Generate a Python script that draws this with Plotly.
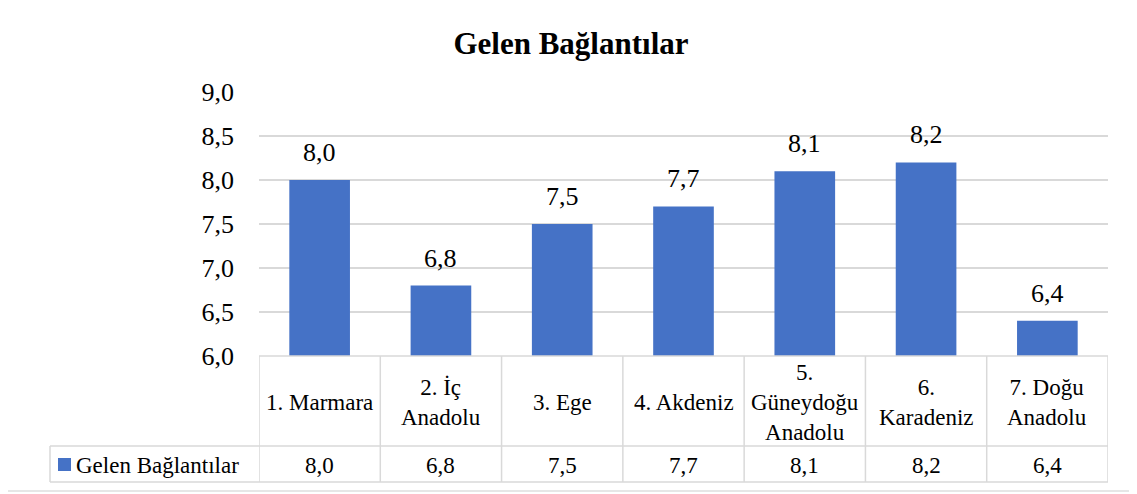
import plotly.graph_objects as go

categories = ["1. Marmara", "2. İç<br>Anadolu", "3. Ege", "4. Akdeniz",
              "5.<br>Güneydoğu<br>Anadolu", "6.<br>Karadeniz", "7. Doğu<br>Anadolu"]
values = [8.0, 6.8, 7.5, 7.7, 8.1, 8.2, 6.4]
series_name = "Gelen Bağlantılar"
y_ticks = [6.0, 6.5, 7.0, 7.5, 8.0, 8.5, 9.0]

OFF = 8  # page body margin
W, H = 1137 - OFF, 494 - OFF
L, R, T, B = 259 - OFF, 1108 - OFF, 92 - OFF, 356 - OFF
FONT = "Liberation Serif"
GRID = "#d9d9d9"
BAR = "#4572c6"
TBL = 23

def py(pix):
    return (B - (pix - OFF)) / (B - T)

def px(pix):
    return ((pix - OFF) - L) / (R - L)

def fmt(v):
    return f"{v:.1f}".replace(".", ",")

xs = list(range(len(categories)))

fig = go.Figure()
fig.add_trace(go.Bar(
    x=xs, y=values, name=series_name,
    marker=dict(color=BAR, line=dict(width=0)),
    showlegend=False, hoverinfo="y",
))

shapes = []
shapes.append(dict(type="line", xref="paper", yref="paper",
                   x0=px(1134), x1=px(1134), y0=py(491), y1=py(8),
                   line=dict(color="#e6e6e6", width=2)))
shapes.append(dict(type="line", xref="paper", yref="paper",
                   x0=px(8), x1=px(1134), y0=py(491), y1=py(491),
                   line=dict(color="#e6e6e6", width=2)))
y_head = py(446)
y_bot = py(482)
shapes.append(dict(type="line", xref="paper", yref="paper", x0=0, x1=1, y0=0, y1=0,
                   line=dict(color=GRID, width=1.5)))
for yy in (y_head, y_bot):
    shapes.append(dict(type="line", xref="paper", yref="paper", x0=px(50), x1=1, y0=yy, y1=yy,
                       line=dict(color=GRID, width=1.5)))
shapes.append(dict(type="line", xref="paper", yref="paper", x0=px(50), x1=px(50), y0=y_head, y1=y_bot,
                   line=dict(color=GRID, width=1.5)))
for i in range(len(categories) + 1):
    xb = i - 0.5
    shapes.append(dict(type="line", xref="x", yref="paper", x0=xb, x1=xb, y0=0, y1=y_bot,
                       line=dict(color=GRID, width=1.5)))
shapes.append(dict(type="rect", xref="paper", yref="paper",
                   x0=px(58), x1=px(71), y0=py(471), y1=py(458),
                   fillcolor=BAR, line=dict(width=0)))

annotations = []
for i, c in enumerate(categories):
    # value label above bar
    annotations.append(dict(x=i, y=values[i], xref="x", yref="y", text=fmt(values[i]), showarrow=False,
                            font=dict(family=FONT, size=26, color="#000000"),
                            xanchor="center", yanchor="bottom", yshift=11))
    annotations.append(dict(x=i, y=py(402), xref="x", yref="paper", text=c, showarrow=False,
                            font=dict(family=FONT, size=TBL, color="#000000"),
                            xanchor="center", yanchor="middle", align="center"))
    annotations.append(dict(x=i, y=py(465), xref="x", yref="paper", text=fmt(values[i]),
                            showarrow=False, font=dict(family=FONT, size=TBL, color="#000000"),
                            xanchor="center", yanchor="middle"))
annotations.append(dict(x=px(74), y=py(465), xref="paper", yref="paper", text=series_name,
                        showarrow=False, font=dict(family=FONT, size=TBL, color="#000000"),
                        xanchor="left", yanchor="middle"))

fig.update_layout(
    width=W, height=H,
    margin=dict(l=L, r=W - R, t=T, b=H - B, pad=0),
    paper_bgcolor="white", plot_bgcolor="white",
    separators=",.",
    bargap=0.5,
    font=dict(family=FONT),
    title=dict(text="<b>Gelen Bağlantılar</b>", x=(571 - OFF) / W, xref="container", xanchor="center",
               y=1 - (43 - OFF) / H, yanchor="middle",
               font=dict(family=FONT, size=31, color="#000000")),
    xaxis=dict(range=[-0.5, len(categories) - 0.5], showticklabels=False, showgrid=False,
               zeroline=False, showline=False, fixedrange=True),
    yaxis=dict(range=[6.0, 9.0], tickvals=y_ticks, tickformat=".1f", showgrid=True,
               gridcolor=GRID, gridwidth=1.5, zeroline=False, showline=False, ticks="",
               ticklabelstandoff=24,
               tickfont=dict(family=FONT, size=26, color="#000000")),
    shapes=shapes, annotations=annotations,
)

fig.write_html("out.html")
